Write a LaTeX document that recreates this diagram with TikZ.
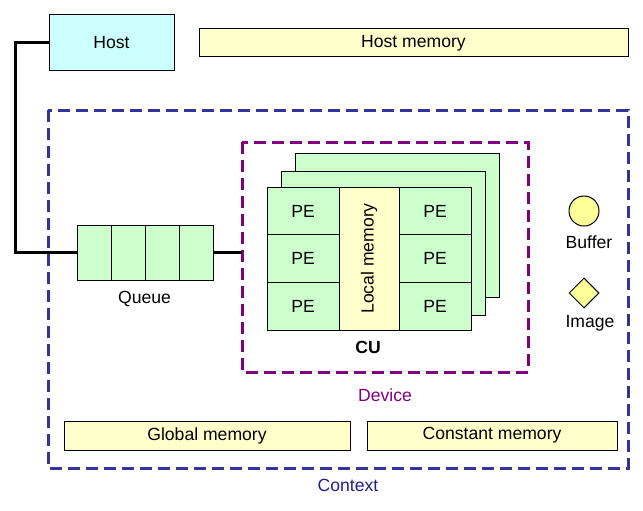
\documentclass[tikz,border=0pt]{standalone}
\usepackage{fontspec}
\setmainfont{Liberation Sans}
\usetikzlibrary{shapes.geometric}
\definecolor{cyanfill}{HTML}{CCFFFF}
\definecolor{yelfill}{HTML}{FFFFCC}
\definecolor{grnfill}{HTML}{CCFFCC}
\definecolor{ballfill}{HTML}{FFFF99}
\definecolor{ctxcol}{HTML}{333399}
\definecolor{ctxtext}{HTML}{1F1F8F}
\definecolor{devcol}{HTML}{800080}
\begin{document}
\begin{tikzpicture}[x=1pt,y=-1pt,
  font=\fontsize{17.6}{19}\selectfont,
  box/.style={draw=black, line width=1pt, inner sep=0pt, outer sep=0pt},
  membox/.style={box, fill=yelfill},
  pebox/.style={box, fill=grnfill, minimum width=72, minimum height=48},
  frame/.style={draw=black, line width=1pt, fill=grnfill},
  dashbox/.style={line width=3pt, dash pattern=on 12pt off 6pt},
  wire/.style={line width=3pt, draw=black},
  lbl/.style={inner sep=0pt}]
\useasboundingbox (0,0) rectangle (643,511);

% Context and device frames
\draw[dashbox, draw=ctxcol] (48,110) rectangle (628,468);
\node[lbl, text=ctxtext] (ctxlbl) at (348,485) {Context};
\draw[dashbox, draw=devcol] (242,142) rectangle (528,372);
\node[lbl, text=devcol] (devlbl) at (385,395) {Device};

% Host
\node[box, fill=cyanfill, minimum width=125, minimum height=56] (host) at (111.5,43) {Host};
\node[membox, minimum width=429, minimum height=28] (hostmem) at (413.5,43) {Host memory};

% Queue
\foreach \i in {0,1,2,3} {
  \node[box, fill=grnfill, minimum width=34, minimum height=55] (q\i) at (94+\i*34,252.5) {};
}
\node[lbl] (queuelbl) at (144.5,299) {Queue};
\coordinate (devleft) at (242,252.5);
\coordinate (bend) at (15,43);
\coordinate (bend2) at (15,252.5);
\draw[wire] (host.west) -- (bend) -- (bend2) -- (q0.west);
\draw[wire] (q3.east) -- (devleft);

% CU stack
\draw[frame] (295,153) rectangle (499,297);
\draw[frame] (281,171) rectangle (485,315);
\foreach \r in {0,1,2} {
  \node[pebox] (pl\r) at (303,211+\r*47.7) {PE};
  \node[pebox] (pr\r) at (435,211+\r*47.7) {PE};
}
\node[membox, minimum width=60, minimum height=143] (local) at (369,258.5) {};
\node[lbl, rotate=90] (locallbl) at (369,258.5) {Local memory};
\node[lbl, font=\fontsize{17.6}{19}\selectfont\bfseries] (culbl) at (368,347) {CU};

% Buffer and Image
\node[circle, draw=black, line width=1pt, fill=ballfill, minimum size=30, inner sep=0pt] (buffer) at (584,211) {};
\node[lbl] (bufferlbl) at (589,242.5) {Buffer};
\node[diamond, draw=black, line width=1pt, fill=ballfill, minimum size=30, inner sep=0pt] (image) at (584,293) {};
\node[lbl] (imagelbl) at (590,323.5) {Image};

% Global and constant memory
\node[membox, minimum width=286, minimum height=29] (global) at (207,435.5) {Global memory};
\node[membox, minimum width=250, minimum height=29] (const) at (492,435.5) {Constant memory};
\end{tikzpicture}
\end{document}
